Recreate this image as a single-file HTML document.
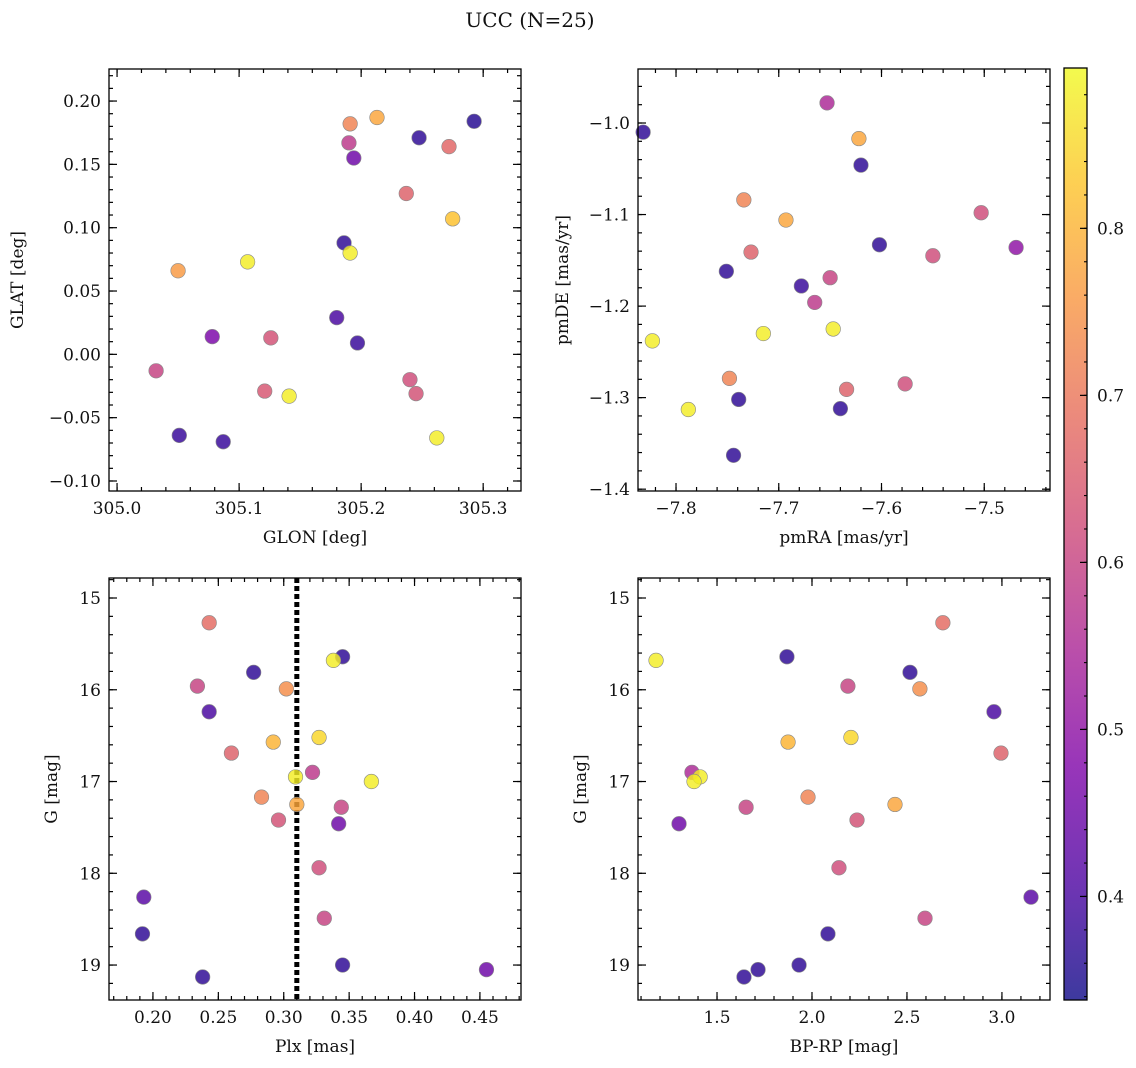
<!DOCTYPE html>
<html><head><meta charset="utf-8"><style>
html,body{margin:0;padding:0;background:#fff;width:1136px;height:1068px;overflow:hidden}
svg text{font-family:"DejaVu Serif","Liberation Serif",serif;fill:#111}
</style></head><body>
<svg id="fig" width="1136" height="1068" xmlns="http://www.w3.org/2000/svg">
<text x="530" y="27" font-size="20" text-anchor="middle">UCC (N=25)</text>
<defs><linearGradient id="plasma" x1="0" y1="1" x2="0" y2="0">
<stop offset="0" stop-color="#0d0887"/><stop offset="0.125" stop-color="#4c02a1"/><stop offset="0.25" stop-color="#7e03a8"/><stop offset="0.375" stop-color="#a92395"/><stop offset="0.5" stop-color="#cc4778"/><stop offset="0.625" stop-color="#e66c5c"/><stop offset="0.75" stop-color="#f89540"/><stop offset="0.875" stop-color="#fdc328"/><stop offset="1" stop-color="#f0f921"/>
</linearGradient></defs>
</svg>
<script>
// Panel 1: GLON vs GLAT
const p1x=[305.2926,305.213,305.191,305.19,305.194,305.2475,305.272,305.237,305.275,305.186,305.191,305.107,305.05,305.180,305.197,305.078,305.126,305.032,305.121,305.141,305.240,305.245,305.051,305.087,305.262];
const p1y=[0.184,0.187,0.182,0.167,0.155,0.171,0.164,0.127,0.107,0.088,0.080,0.073,0.066,0.029,0.009,0.014,0.013,-0.013,-0.029,-0.033,-0.020,-0.031,-0.064,-0.069,-0.066];
const p1c=[0.36,0.78,0.72,0.58,0.45,0.37,0.67,0.66,0.82,0.37,0.88,0.88,0.76,0.40,0.38,0.47,0.63,0.60,0.64,0.88,0.62,0.63,0.38,0.38,0.88];
// Panel 2: pmRA vs pmDE
const p2x=[-7.832,-7.653,-7.622,-7.620,-7.734,-7.693,-7.727,-7.602,-7.503,-7.550,-7.469,-7.751,-7.650,-7.678,-7.665,-7.823,-7.715,-7.647,-7.748,-7.634,-7.577,-7.788,-7.739,-7.640,-7.744];
const p2y=[-1.010,-0.978,-1.017,-1.046,-1.084,-1.106,-1.141,-1.133,-1.098,-1.145,-1.136,-1.162,-1.169,-1.178,-1.196,-1.238,-1.230,-1.225,-1.279,-1.291,-1.285,-1.313,-1.302,-1.312,-1.363];
const p2c=[0.37,0.55,0.78,0.37,0.72,0.78,0.66,0.37,0.62,0.62,0.50,0.37,0.60,0.38,0.58,0.88,0.88,0.88,0.72,0.66,0.62,0.88,0.37,0.37,0.37];
// Panel 3: Plx vs G
const p3x=[0.243,0.345,0.338,0.277,0.234,0.302,0.243,0.292,0.327,0.260,0.322,0.309,0.367,0.283,0.310,0.344,0.296,0.342,0.327,0.193,0.331,0.192,0.345,0.238,0.455];
const p3y=[15.27,15.64,15.68,15.81,15.96,15.99,16.24,16.57,16.52,16.69,16.90,16.95,17.00,17.17,17.25,17.28,17.42,17.46,17.94,18.26,18.49,18.66,19.00,19.13,19.05];
const p3c=[0.68,0.37,0.88,0.37,0.60,0.74,0.40,0.80,0.85,0.66,0.58,0.88,0.88,0.72,0.78,0.60,0.63,0.45,0.62,0.42,0.60,0.37,0.37,0.37,0.45];
const plxLine=[0.310];
// Panel 4: BP-RP vs G
const p4x=[2.689,1.179,1.868,2.516,2.189,2.568,2.958,1.874,2.205,2.995,1.368,1.411,1.379,1.979,2.437,1.653,2.237,1.300,2.142,3.153,2.595,2.084,1.932,1.642,1.716];
const p4y=[15.27,15.68,15.64,15.81,15.96,15.99,16.24,16.57,16.52,16.69,16.90,16.95,17.00,17.17,17.25,17.28,17.42,17.46,17.94,18.26,18.49,18.66,19.00,19.13,19.05];
const p4c=[0.68,0.88,0.37,0.37,0.60,0.74,0.40,0.80,0.85,0.66,0.55,0.88,0.88,0.72,0.78,0.60,0.63,0.45,0.62,0.42,0.60,0.37,0.37,0.37,0.37];
const cbTicks=[0.4,0.5,0.6,0.7,0.8];

const NS='http://www.w3.org/2000/svg';
const fig=document.getElementById('fig');
function el(t,a,p){const e=document.createElementNS(NS,t);for(const k in a)e.setAttribute(k,a[k]);(p||fig).appendChild(e);return e;}
const CMIN=0.338,CMAX=0.896;
const stops=[[13,8,135],[76,2,161],[126,3,168],[169,35,149],[204,71,120],[230,108,92],[248,149,64],[253,195,40],[240,249,33]];
function cmap(v){let t=(v-CMIN)/(CMAX-CMIN);t=Math.max(0,Math.min(1,t))*8;const i=Math.min(7,Math.floor(t)),f=t-i;const a=stops[i],b=stops[i+1];return 'rgb('+a.map((x,k)=>Math.round(x+(b[k]-x)*f)).join(',')+')';}
function fmt(v,d){return (v<-1e-12?'\u2212':'')+Math.abs(v).toFixed(d);}

function panel(o){
  const g=el('g',{});
  
  
  const sx=v=>o.L+(v-o.x0)/(o.x1-o.x0)*(o.R-o.L);
  const sy=v=>o.inv? o.T+(v-o.y0)/(o.y1-o.y0)*(o.B-o.T) : o.B-(v-o.y0)/(o.y1-o.y0)*(o.B-o.T);
  const tk=el('g',{stroke:'#000','stroke-width':1.2},g);
  function ticks(lo,hi,step,len,isX,lab,dec){
    const s=Math.ceil(lo/step-1e-6);
    for(let k=s;k*step<=hi+1e-9;k++){const v=k*step;
      if(isX){const x=sx(v);el('line',{x1:x,x2:x,y1:o.B,y2:o.B-len},tk);el('line',{x1:x,x2:x,y1:o.T,y2:o.T+len},tk);
        if(lab){const t=el('text',{x:x,y:o.B+23,'font-size':17,'text-anchor':'middle'},g);t.textContent=fmt(v,dec);}}
      else{const y=sy(v);el('line',{x1:o.L,x2:o.L+len,y1:y,y2:y},tk);el('line',{x1:o.R,x2:o.R-len,y1:y,y2:y},tk);
        if(lab){const t=el('text',{x:o.L-8,y:y+6,'font-size':17,'text-anchor':'end'},g);t.textContent=fmt(v,dec);}}
    }
  }
  const xl=Math.min(o.x0,o.x1),xh=Math.max(o.x0,o.x1),yl=Math.min(o.y0,o.y1),yh=Math.max(o.y0,o.y1);
  ticks(xl,xh,o.xmin,4,true,false);ticks(xl,xh,o.xmaj,8,true,true,o.xd);
  ticks(yl,yh,o.ymin,4,false,false);ticks(yl,yh,o.ymaj,8,false,true,o.yd);
  if(o.vline!==undefined){const l=el('line',{x1:sx(o.vline),x2:sx(o.vline),y1:o.T,y2:o.B,stroke:'#000','stroke-width':5,'stroke-dasharray':'5,3'},g);}
  for(let i=0;i<o.xs.length;i++){
    const c=el('circle',{cx:sx(o.xs[i]),cy:sy(o.ys[i]),r:7.3,fill:cmap(o.cs[i]),'fill-opacity':0.82,stroke:'#888','stroke-width':0.6},g);
    
    
  }
  el('rect',{x:o.L,y:o.T,width:o.R-o.L,height:o.B-o.T,fill:'none',stroke:'#000','stroke-width':1.3},g);
  const xt=el('text',{x:(o.L+o.R)/2,y:o.B+52,'font-size':17,'text-anchor':'middle'},g);xt.textContent=o.xlab;
  
  const yx=o.L-o.ylOff;const yt=el('text',{x:yx,y:(o.T+o.B)/2,'font-size':17,'text-anchor':'middle',transform:'rotate(-90 '+yx+' '+(o.T+o.B)/2+')'},g);yt.textContent=o.ylab;
  
}
panel({name:'glon-glat-panel',L:109,R:521,T:69,B:491,x0:304.9934,x1:305.331,y0:-0.1079,y1:0.2253,xmaj:0.1,xmin:0.02,ymaj:0.05,ymin:0.01,xd:1,yd:2,xs:p1x,ys:p1y,cs:p1c,xlab:'GLON [deg]',ylab:'GLAT [deg]',ylOff:86});
panel({name:'proper-motion-panel',L:638,R:1050,T:69,B:491,x0:-7.837,x1:-7.436,y0:-1.402,y1:-0.941,xmaj:0.1,xmin:0.02,ymaj:0.1,ymin:0.02,xd:1,yd:1,xs:p2x,ys:p2y,cs:p2c,xlab:'pmRA [mas/yr]',ylab:'pmDE [mas/yr]',ylOff:70});
panel({name:'parallax-magnitude-panel',L:109,R:521,T:578,B:1000,x0:0.1664,x1:0.4814,y0:14.782,y1:19.381,inv:true,xmaj:0.05,xmin:0.01,ymaj:1,ymin:0.2,xd:2,yd:0,xs:p3x,ys:p3y,cs:p3c,xlab:'Plx [mas]',ylab:'G [mag]',ylOff:52,vline:plxLine[0]});
panel({name:'color-magnitude-panel',L:638,R:1050,T:578,B:1000,x0:1.084,x1:3.253,y0:14.782,y1:19.381,inv:true,xmaj:0.5,xmin:0.1,ymaj:1,ymin:0.2,xd:1,yd:0,xs:p4x,ys:p4y,cs:p4c,xlab:'BP-RP [mag]',ylab:'G [mag]',ylOff:52});
// colorbar
const cb=el('g',{});


const cT=68,cB=1000,cL=1064,cR=1087;
el('rect',{x:cL,y:cT,width:cR-cL,height:cB-cT,fill:'url(#plasma)','fill-opacity':0.8},cb);
const cy=v=>cB-(v-CMIN)/(CMAX-CMIN)*(cB-cT);
for(let v=0.34;v<=0.8961;v+=0.02){const y=cy(v);el('line',{x1:cR,x2:cR-3,y1:y,y2:y,stroke:'#000','stroke-width':1.1},cb);}
cbTicks.forEach(v=>{const y=cy(v);el('line',{x1:cR,x2:cR-7,y1:y,y2:y,stroke:'#000','stroke-width':1.2},cb);
  const t=el('text',{x:cR+10,y:y+6,'font-size':17},cb);t.textContent=v.toFixed(1);
  
  });
el('rect',{x:cL,y:cT,width:cR-cL,height:cB-cT,fill:'none',stroke:'#000','stroke-width':1.3},cb);
</script>
</body></html>
